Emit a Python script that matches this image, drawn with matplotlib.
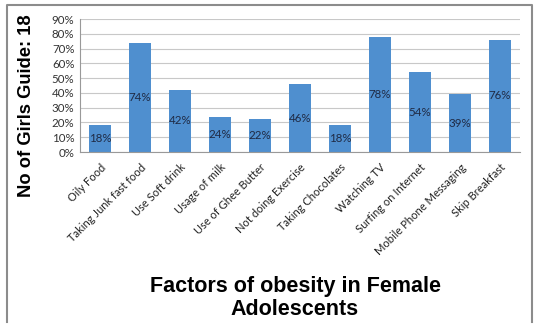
import matplotlib.pyplot as plt
from matplotlib.lines import Line2D
from matplotlib.ticker import PercentFormatter

factors = ['Oily Food', 'Taking Junk fast food', 'Use Soft drink', 'Usage of milk',
           'Use of Ghee Butter', 'Not doing Exercise', 'Taking Chocolates',
           'Watching TV', 'Surfing on Internet', 'Mobile Phone Messaging',
           'Skip Breakfast']
percent = [18, 74, 42, 24, 22, 46, 18, 78, 54, 39, 76]

BAR = '#4f8fcf'

def plot_data():
    plt.rcParams['font.family'] = ['Lato', 'DejaVu Sans']
    fig = plt.figure(figsize=(5.40, 3.29), dpi=100)
    ax = fig.add_axes([80 / 540, 1 - 152 / 329, 440 / 540, 133 / 329])

    x = range(len(factors))
    bars = ax.bar(x, percent, width=0.55, color=BAR, zorder=2)
    for b, v in zip(bars, percent):
        ax.text(b.get_x() + b.get_width() / 2, v / 2, f'{v}%', ha='center', va='center',
                fontsize=8.3, color='#1f2a44', zorder=3)

    ax.set_xlim(-0.5, len(factors) - 0.5)
    ax.set_ylim(0, 90)
    ax.set_yticks(range(0, 91, 10))
    ax.yaxis.set_major_formatter(PercentFormatter(decimals=0))
    ax.grid(axis='y', color='#c8c8c8', linewidth=0.8, zorder=0)
    ax.set_xticks(list(x))
    ax.set_xticklabels(factors, rotation=45, ha='right', rotation_mode='anchor',
                       fontsize=8, color='#222222')
    ax.tick_params(axis='x', length=0, pad=7)
    ax.tick_params(axis='y', length=0, pad=4, labelsize=8.3, colors='#333333')
    for s in ['top', 'right']:
        ax.spines[s].set_visible(False)
    ax.spines['left'].set_color('#999999')
    ax.spines['bottom'].set_color('#999999')

    fig.text(27 / 540, 1 - 106 / 329, 'No of Girls Guide: 18', rotation=90,
             ha='center', va='center', fontsize=13.2, fontweight='bold',
             family='Liberation Sans')
    fig.text(295 / 540, 1 - 298 / 329, 'Factors of obesity in Female\nAdolescents',
             ha='center', va='center', fontsize=15.5, fontweight='bold',
             family='Liberation Sans', linespacing=1.1)

    # frame around the chart area (left, top, right)
    fx = [7 / 540, 7 / 540, 532 / 540, 532 / 540]
    fy = [1 - 322 / 329, 1 - 5 / 329, 1 - 5 / 329, 1 - 322 / 329]
    fig.add_artist(Line2D(fx, fy, color='#8c8c8c', linewidth=1.5))

    fig.savefig('out.png', dpi=100)

def main():
    plot_data()

if __name__ == "__main__":
    main()
